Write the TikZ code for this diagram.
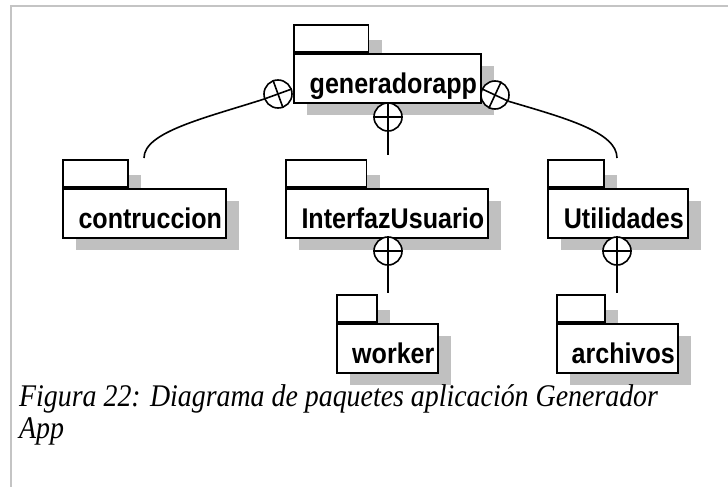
\documentclass[tikz,border=0pt]{standalone}
\usepackage{fontspec}
\newfontfamily\pkgfont{Liberation Sans}[FakeStretch=0.88]
\newfontfamily\capfont{Liberation Serif}[FakeStretch=0.885]
\definecolor{shadegray}{HTML}{C0C0C0}
\definecolor{framegray}{HTML}{C4C4C4}
\tikzset{
  outline/.style={draw=black, line width=1.6pt},
  pkgtab/.style={outline, fill=white, rectangle, inner sep=0pt, minimum height=27pt},
  pkgbody/.style={outline, fill=white, rectangle, inner sep=0pt, minimum height=49pt},
  pkgname/.style={inner sep=0pt, font=\pkgfont\bfseries\fontsize{28.5}{32}\selectfont},
  pkgshade/.style={fill=shadegray},
  ball/.style={outline, circle, fill=white, inner sep=0pt, minimum size=28pt},
  wire/.style={draw=black, line width=1.6pt},
  captext/.style={inner sep=0pt, anchor=base west, font=\capfont\itshape\fontsize{31.5}{35}\selectfont},
}
% #1 name, #2 left x, #3 top y of the body, #4 body width, #5 label
\newcommand\umlpkg[5]{%
  \fill[pkgshade] (#2+14,#3-13) rectangle (#2+0.4*#4+14,#3);
  \fill[pkgshade] (#2+14,#3+13) rectangle (#2+#4+14,#3+62);
  \node[pkgtab, minimum width=0.4*#4, anchor=south west] (#1-tab) at (#2,#3) {};
  \node[pkgbody, minimum width=#4, anchor=north west] (#1) at (#2,#3) {};
  \node[pkgname, anchor=base] (#1-name) at ([xshift=6pt,yshift=10pt]#1.south) {#5};
}
\begin{document}
\begin{tikzpicture}[x=1pt, y=-1pt]
  \useasboundingbox (0,0) rectangle (728,487);
  % page frame
  \draw[framegray, line width=1.8pt] (10.8,487) -- (10.8,5.8) -- (728,5.8);

  % packages
  \umlpkg{gen}{293}{53}{187}{generadorapp}
  \umlpkg{con}{62}{188}{163}{contruccion}
  \umlpkg{int}{285}{188}{202}{InterfazUsuario}
  \umlpkg{uti}{547}{188}{140}{Utilidades}
  \umlpkg{wor}{336}{323}{101}{worker}
  \umlpkg{arc}{556}{323}{121}{archivos}

  % containment anchors
  \node[ball] (bl) at (278,94) {};
  \node[ball] (br) at (495,95) {};
  \node[ball] (bm) at (388,117) {};
  \node[ball] (bw) at (388,251) {};
  \node[ball] (ba) at (617,251) {};

  \coordinate (econ) at (144,158);
  \coordinate (eint) at (388,155);
  \coordinate (euti) at (617,158);
  \coordinate (ewor) at (388,293);
  \coordinate (earc) at (617,293);

  % crosses inside the anchors
  \draw[wire] (bl.200) -- (bl.20) (bl.110) -- (bl.290);
  \draw[wire] (br.155) -- (br.335) (br.65) -- (br.245);
  \draw[wire] (bm.north) -- (bm.south) (bm.west) -- (bm.east);
  \draw[wire] (bw.north) -- (bw.south) (bw.west) -- (bw.east);
  \draw[wire] (ba.north) -- (ba.south) (ba.west) -- (ba.east);

  % nesting connectors
  \draw[wire] (bl.200) .. controls (205,118) and (144,132) .. (econ);
  \draw[wire] (br.335) .. controls (565,118) and (617,132) .. (euti);
  \draw[wire] (bm.south) -- (eint);
  \draw[wire] (bw.south) -- (ewor);
  \draw[wire] (ba.south) -- (earc);

  % caption
  \node[captext] (cap1) at (19,406) {Figura 22: Diagrama de paquetes aplicación Generador};
  \node[captext] (cap2) at (19,438) {App};
\end{tikzpicture}
\end{document}
